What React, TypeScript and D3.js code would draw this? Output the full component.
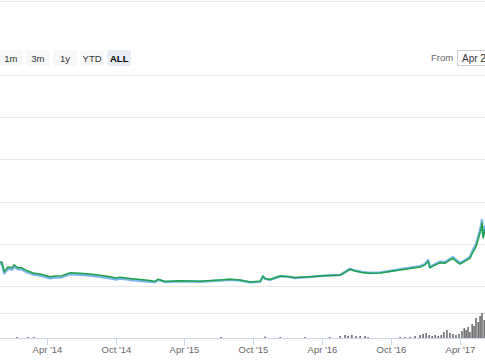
import React from 'react';
import * as d3 from 'd3';

const priceDates = [
  '2013-11-28', '2013-12-03', '2013-12-09', '2013-12-19', '2013-12-30', '2014-01-04', '2014-01-15', '2014-01-25',
  '2014-02-08', '2014-02-24', '2014-03-14', '2014-04-10', '2014-04-23', '2014-05-11', '2014-06-02', '2014-06-28',
  '2014-07-25', '2014-08-20', '2014-09-16', '2014-10-02', '2014-10-12', '2014-11-08', '2014-12-04', '2014-12-31',
  '2015-01-13', '2015-01-21', '2015-02-09', '2015-03-20', '2015-05-12', '2015-07-04', '2015-07-31', '2015-08-26',
  '2015-09-22', '2015-10-19', '2015-10-26', '2015-11-01', '2015-11-14', '2015-12-11', '2016-01-06', '2016-01-19',
  '2016-02-02', '2016-02-28', '2016-03-26', '2016-04-20', '2016-05-18', '2016-05-26', '2016-06-13', '2016-06-26',
  '2016-07-15', '2016-08-05', '2016-09-01', '2016-09-27', '2016-10-24', '2016-11-19', '2016-12-16', '2016-12-29',
  '2017-01-06', '2017-01-11', '2017-01-25', '2017-02-07', '2017-02-20', '2017-03-05', '2017-03-13', '2017-03-24',
  '2017-04-01', '2017-04-14', '2017-04-27', '2017-05-05', '2017-05-13', '2017-05-21', '2017-05-27', '2017-05-29',
  '2017-06-01', '2017-06-04', '2017-06-06', '2017-06-12',
];

const greenValues = [
  5.7, 5.7, 3.4, 4.5, 4.3, 5.0, 4.3, 4.3,
  3.6, 3.1, 2.85, 2.2, 2.37, 2.45, 3.15, 3.0,
  2.85, 2.55, 2.2, 1.9, 2.1, 1.8, 1.55, 1.3,
  1.07, 1.6, 1.07, 1.26, 1.1, 1.42, 1.6, 1.42,
  0.95, 1.1, 2.37, 1.8, 1.55, 2.37, 2.2, 1.97,
  2.06, 2.2, 2.37, 2.5, 2.6, 3.0, 3.96, 3.55,
  3.2, 3.0, 3.08, 3.44, 3.8, 4.15, 4.5, 5.0,
  5.9, 4.3, 5.0, 5.5, 5.4, 6.15, 6.55, 5.7,
  5.2, 5.9, 6.55, 8.05, 9.3, 11.7, 13.7, 14.9,
  11.4, 12.8, 13.5, 13.0,
];

const blueValues = [
  5.3, 5.3, 3.0, 4.1, 3.9, 4.6, 3.95, 3.95,
  3.25, 2.75, 2.5, 1.85, 2.0, 2.1, 2.8, 2.65,
  2.5, 2.2, 1.85, 1.55, 1.75, 1.45, 1.25, 1.0,
  0.95, 1.45, 0.97, 1.15, 1.0, 1.32, 1.5, 1.32,
  0.87, 1.0, 2.25, 1.7, 1.45, 2.3, 2.12, 1.9,
  2.0, 2.15, 2.35, 2.5, 2.6, 3.05, 4.05, 3.65,
  3.3, 3.1, 3.2, 3.55, 3.95, 4.3, 4.7, 5.2,
  6.1, 4.5, 5.2, 5.75, 5.65, 6.4, 6.85, 6.0,
  5.45, 6.15, 6.85, 8.5, 9.8, 12.3, 14.4, 15.6,
  12.0, 13.4, 14.1, 13.6,
];

const volumeDates = [
  '2014-01-12', '2014-02-10', '2014-02-26', '2015-07-07', '2015-11-01', '2015-12-11', '2016-02-14', '2016-04-20',
  '2016-05-18', '2016-05-31', '2016-06-08', '2016-06-18', '2016-06-29', '2016-07-10', '2016-07-23', '2016-07-31',
  '2016-10-24', '2016-11-06', '2016-11-19', '2016-12-03', '2016-12-16', '2016-12-24', '2017-01-01', '2017-01-09',
  '2017-01-17', '2017-01-25', '2017-02-02', '2017-02-10', '2017-02-17', '2017-02-25', '2017-03-05', '2017-03-13',
  '2017-03-21', '2017-03-29', '2017-04-06', '2017-04-12', '2017-04-17', '2017-04-22', '2017-04-27', '2017-05-03',
  '2017-05-08', '2017-05-13', '2017-05-19', '2017-05-24', '2017-05-29', '2017-06-04',
];

const volumeValues = [
  4, 4, 4, 4, 6, 4, 4, 4,
  8, 12, 8, 12, 8, 8, 8, 4,
  4, 4, 4, 8, 12, 16, 20, 12,
  8, 12, 8, 12, 24, 32, 20, 16,
  12, 16, 28, 40, 32, 44, 24, 56,
  48, 80, 64, 88, 100, 72,
];

const tickDates = ['2014-04-01', '2014-10-01', '2015-04-01', '2015-10-01', '2016-04-01', '2016-10-01', '2017-04-01'];
const tickLabels = ["Apr '14", "Oct '14", "Apr '15", "Oct '15", "Apr '16", "Oct '16", "Apr '17"];

const rangeButtons = ['1m', '3m', '1y', 'YTD', 'ALL'];
const fromLabel = 'From';
const fromValue = 'Apr 28, 2013';

const W = 485;
const H = 360;
const FONT = '"Liberation Sans", Arial, sans-serif';

export default function App() {
  const parse = d3.timeParse('%Y-%m-%d');

  const x = d3.scaleTime()
    .domain([parse('2013-11-28')!, parse('2017-06-06')!])
    .range([0, W]);

  const y = d3.scaleLinear().domain([0, 50]).range([286, 75]);
  const yVol = d3.scaleLinear().domain([0, 100]).range([338, 313]);

  const prices = priceDates.map((d, i) => ({ date: parse(d)!, green: greenValues[i], blue: blueValues[i] }));

  const greenLine = d3.line<typeof prices[number]>()
    .x(d => x(d.date))
    .y(d => y(d.green));
  const blueLine = d3.line<typeof prices[number]>()
    .x(d => x(d.date))
    .y(d => y(d.blue));

  const btnX = d3.scaleBand().domain(rangeButtons).range([-1, 131]).paddingInner(0.13);

  return (
    <svg
      width={W}
      height={H}
      style={{ position: 'fixed', left: 0, top: 0, background: '#fff', fontFamily: FONT }}
    >
      <line x1={0} x2={W} y1={1.5} y2={1.5} stroke="#e6e6e6" />

      {/* range selector */}
      {rangeButtons.map(b => (
        <g key={b} transform={`translate(${btnX(b)},50)`}>
          <rect width={btnX.bandwidth()} height={16} rx={2} fill={b === 'ALL' ? '#e6ebf5' : '#f7f7f7'} />
          <text
            x={btnX.bandwidth() / 2}
            y={11.5}
            textAnchor="middle"
            fontSize={9.5}
            fill={b === 'ALL' ? '#000' : '#333'}
            fontWeight={b === 'ALL' ? 'bold' : 'normal'}
          >
            {b}
          </text>
        </g>
      ))}
      <text x={431} y={61} fontSize={9.5} fill="#666">{fromLabel}</text>
      <rect x={457.5} y={50.5} width={70} height={15} fill="#fff" stroke="#ccc" />
      <text x={462} y={61.5} fontSize={10} fill="#333">{fromValue}</text>

      {/* price grid */}
      {y.ticks(5).map(t => (
        <line key={t} x1={0} x2={W} y1={Math.round(y(t)) + 0.5} y2={Math.round(y(t)) + 0.5} stroke="#e6e6e6" />
      ))}

      {/* volume grid */}
      <line x1={0} x2={W} y1={yVol(100) + 0.5} y2={yVol(100) + 0.5} stroke="#e6e6e6" />

      {/* volume bars */}
      {volumeDates.map((d, i) => {
        const v = volumeValues[i];
        return (
          <rect
            key={d}
            x={x(parse(d)!) - 0.8}
            y={yVol(v)}
            width={1.6}
            height={yVol(0) - yVol(v)}
            fill="#6e6e6e"
          />
        );
      })}

      {/* price lines */}
      <path d={blueLine(prices)!} fill="none" stroke="#7cb5ec" strokeWidth={2.5} strokeLinejoin="round" />
      <path d={greenLine(prices)!} fill="none" stroke="#1fa34a" strokeWidth={1.5} strokeLinejoin="round" />

      {/* x axis */}
      <line x1={0} x2={W} y1={338.5} y2={338.5} stroke="#ccd6eb" />
      {tickDates.map((d, i) => {
        const tx = Math.round(x(parse(d)!)) + 0.5;
        return (
          <g key={d}>
            <line x1={tx} x2={tx} y1={338} y2={345} stroke="#ccd6eb" />
            <text x={tx} y={353} textAnchor="middle" fontSize={9.5} fill="#666">{tickLabels[i]}</text>
          </g>
        );
      })}
    </svg>
  );
}
